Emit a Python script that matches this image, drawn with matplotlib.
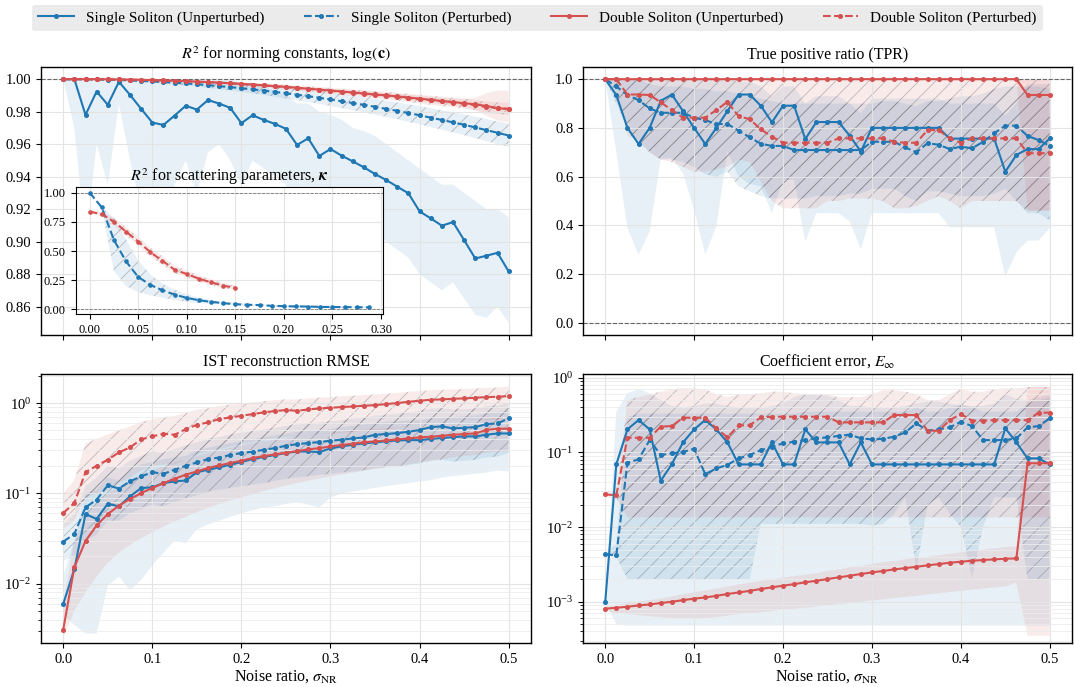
import numpy as np
import matplotlib
matplotlib.use('Agg')
import matplotlib.pyplot as plt
from matplotlib.lines import Line2D

plt.rcParams['font.family'] = ['Liberation Serif', 'DejaVu Serif']
plt.rcParams['mathtext.fontset'] = 'stix'
plt.rcParams['hatch.linewidth'] = 0.6

# noise ratio grid (41 levels, step 0.0125)
noise = np.arange(41) * 0.0125
noise_k_single = noise[:24]
noise_k_double = noise[:13]

labels = ['Single Soliton (Unperturbed)', 'Single Soliton (Perturbed)',
          'Double Soliton (Unperturbed)', 'Double Soliton (Perturbed)']

# ---- R^2 for norming constants ----
r2c_su = [1.0, 1.0, 0.978, 0.9924, 0.9842, 0.9984, 0.9903, 0.9817, 0.9733, 0.9718,
          0.9776, 0.9836, 0.9813, 0.9871, 0.985, 0.9823, 0.9729, 0.9778, 0.9749, 0.9725,
          0.9694, 0.9595, 0.9636, 0.9527, 0.957, 0.9529, 0.9494, 0.9457, 0.9416, 0.9379,
          0.9338, 0.9297, 0.9186, 0.9143, 0.9098, 0.912, 0.9009, 0.8896, 0.8913, 0.8931, 0.8816]
r2c_su_lo = [1.0, 0.97, 0.90, 0.96, 0.935, 0.985, 0.95, 0.92, 0.91, 0.92,
             0.935, 0.95, 0.93, 0.955, 0.96, 0.95, 0.935, 0.95, 0.945, 0.94,
             0.935, 0.92, 0.93, 0.92, 0.925, 0.92, 0.915, 0.91, 0.905, 0.9,
             0.895, 0.89, 0.88, 0.875, 0.87, 0.875, 0.865, 0.855, 0.853, 0.86, 0.85]
r2c_su_hi = [1.0] * 16 + [0.998, 0.997, 0.995, 0.993, 0.99, 0.985, 0.985, 0.98, 0.978, 0.975,
                          0.97, 0.968, 0.965, 0.96, 0.955, 0.95, 0.945, 0.94, 0.935, 0.935,
                          0.93, 0.925, 0.92, 0.92, 0.915]
r2c_sp = [1.0, 1.0, 0.9999, 0.9998, 0.9997, 0.9995, 0.9992, 0.9989, 0.9986, 0.9982,
          0.9978, 0.9974, 0.9969, 0.9963, 0.9957, 0.9951, 0.9944, 0.9937, 0.993, 0.9922,
          0.9913, 0.9904, 0.9895, 0.9885, 0.9875, 0.9864, 0.9853, 0.9842, 0.983, 0.9817,
          0.9805, 0.9791, 0.9778, 0.9763, 0.9749, 0.9734, 0.9719, 0.9703, 0.9686, 0.967, 0.9653]
r2c_sp_lo = [1.0, 1.0, 0.9998, 0.9996, 0.9994, 0.9991, 0.9987, 0.9983, 0.9978, 0.9973,
             0.9967, 0.9961, 0.9954, 0.9946, 0.9938, 0.993, 0.9921, 0.9912, 0.9902, 0.9892,
             0.9881, 0.987, 0.9859, 0.9847, 0.9835, 0.9822, 0.9809, 0.9796, 0.9782, 0.9767,
             0.9753, 0.9737, 0.9722, 0.9705, 0.9689, 0.9672, 0.9655, 0.9637, 0.9619, 0.9601, 0.9583]
r2c_sp_hi = [1.0, 1.0, 1.0, 1.0, 1.0, 0.9999, 0.9997, 0.9995, 0.9994, 0.9991,
             0.9989, 0.9987, 0.9984, 0.998, 0.9976, 0.9972, 0.9967, 0.9962, 0.9958, 0.9952,
             0.9945, 0.9938, 0.9931, 0.9923, 0.9915, 0.9906, 0.9897, 0.9888, 0.9878, 0.9867,
             0.9857, 0.9845, 0.9834, 0.9821, 0.9809, 0.9796, 0.9783, 0.9769, 0.9754, 0.974, 0.9725]
r2c_du = [1.0, 1.0, 1.0, 1.0, 0.9999, 0.9998, 0.9997, 0.9996, 0.9994, 0.9992,
          0.999, 0.9988, 0.9985, 0.9982, 0.9979, 0.9975, 0.9971, 0.9967, 0.9962, 0.9957,
          0.9952, 0.9947, 0.9941, 0.9936, 0.993, 0.9924, 0.9918, 0.9912, 0.9906, 0.99,
          0.9894, 0.9887, 0.988, 0.9873, 0.9866, 0.9859, 0.9852, 0.9845, 0.9835, 0.9822, 0.9815]
r2c_du_lo = [1.0, 1.0, 0.9999, 0.9999, 0.9997, 0.9996, 0.9995, 0.9993, 0.9991, 0.9989,
             0.9986, 0.9984, 0.998, 0.9977, 0.9973, 0.9969, 0.9964, 0.996, 0.9954, 0.9949,
             0.9943, 0.9937, 0.9931, 0.9925, 0.9918, 0.9911, 0.9905, 0.9898, 0.9891, 0.9884,
             0.9877, 0.9869, 0.9861, 0.9853, 0.9845, 0.9837, 0.9828, 0.9812, 0.9775, 0.9745, 0.9735]
r2c_du_hi = [1.0, 1.0, 1.0, 1.0, 1.0, 1.0, 0.9999, 0.9999, 0.9998, 0.9996,
             0.9994, 0.9993, 0.999, 0.9987, 0.9985, 0.9981, 0.9978, 0.9974, 0.997, 0.9965,
             0.9961, 0.9957, 0.9951, 0.9947, 0.9942, 0.9937, 0.9931, 0.9926, 0.9921, 0.9916,
             0.9911, 0.9905, 0.9899, 0.9893, 0.9887, 0.9881, 0.9878, 0.9885, 0.9915, 0.993, 0.993]
r2c_dp = [1.0, 1.0, 1.0, 0.9999, 0.9999, 0.9998, 0.9997, 0.9995, 0.9993, 0.9991,
          0.9989, 0.9987, 0.9984, 0.9981, 0.9978, 0.9974, 0.997, 0.9966, 0.9961, 0.9956,
          0.9951, 0.9946, 0.994, 0.9934, 0.9928, 0.9922, 0.9916, 0.991, 0.9904, 0.9898,
          0.9891, 0.9884, 0.9877, 0.987, 0.9863, 0.9856, 0.9849, 0.984, 0.9828, 0.9821, 0.9818]
r2c_dp_lo = [1.0, 1.0, 0.9999, 0.9998, 0.9997, 0.9996, 0.9994, 0.9992, 0.999, 0.9987,
             0.9984, 0.9981, 0.9977, 0.9973, 0.9969, 0.9964, 0.9959, 0.9954, 0.9948, 0.9942,
             0.9936, 0.993, 0.9923, 0.9916, 0.9909, 0.9902, 0.9895, 0.9888, 0.9881, 0.9874,
             0.9866, 0.9858, 0.985, 0.9842, 0.9834, 0.9826, 0.9818, 0.9808, 0.9794, 0.9785, 0.978]
r2c_dp_hi = [1.0, 1.0, 1.0, 1.0, 1.0, 1.0, 1.0, 0.9998, 0.9996, 0.9995,
             0.9994, 0.9993, 0.9991, 0.9989, 0.9987, 0.9984, 0.9981, 0.9978, 0.9974, 0.997,
             0.9966, 0.9962, 0.9957, 0.9952, 0.9947, 0.9942, 0.9937, 0.9932, 0.9927, 0.9922,
             0.9916, 0.991, 0.9904, 0.9898, 0.9892, 0.9886, 0.988, 0.9872, 0.9862, 0.9857, 0.9856]

# ---- inset: R^2 for scattering parameters ----
r2k_sp = [1.0, 0.873, 0.595, 0.411, 0.278, 0.21, 0.164, 0.127, 0.099, 0.079,
          0.065, 0.054, 0.045, 0.04, 0.037, 0.031, 0.028, 0.026, 0.025, 0.022,
          0.021, 0.02, 0.019, 0.018]
r2k_sp_lo = [1.0, 0.86, 0.33, 0.2, 0.15, 0.12, 0.1, 0.08, 0.065, 0.055,
             0.048, 0.04, 0.035, 0.032, 0.029, 0.023, 0.02, 0.018, 0.017, 0.014,
             0.013, 0.012, 0.011, 0.01]
r2k_sp_hi = [1.0, 0.88, 0.78, 0.6, 0.42, 0.3, 0.22, 0.17, 0.13, 0.1,
             0.08, 0.066, 0.055, 0.049, 0.045, 0.039, 0.036, 0.034, 0.033, 0.03,
             0.029, 0.028, 0.027, 0.026]
r2k_dp = [0.836, 0.816, 0.751, 0.666, 0.581, 0.49, 0.416, 0.34, 0.303, 0.263, 0.232, 0.204, 0.184]
r2k_dp_lo = [0.827, 0.797, 0.72, 0.63, 0.545, 0.455, 0.38, 0.31, 0.275, 0.237, 0.207, 0.182, 0.165]
r2k_dp_hi = [0.845, 0.835, 0.785, 0.705, 0.62, 0.53, 0.455, 0.375, 0.335, 0.292, 0.26, 0.228, 0.205]

# ---- TPR ----
tpr_su = [1.0, 0.935, 0.80, 0.734, 0.80, 0.911, 0.937, 0.869, 0.80, 0.734,
          0.80, 0.869, 0.937, 0.937, 0.891, 0.823, 0.891, 0.891, 0.754, 0.824,
          0.824, 0.824, 0.768, 0.703, 0.80, 0.80, 0.80, 0.80, 0.80, 0.80,
          0.80, 0.756, 0.756, 0.756, 0.756, 0.756, 0.62, 0.689, 0.713, 0.713, 0.757]
tpr_su_lo = [1.0, 0.7, 0.39, 0.28, 0.375, 0.675, 0.675, 0.614, 0.464, 0.28,
             0.395, 0.703, 0.6, 0.57, 0.56, 0.45, 0.587, 0.587, 0.334, 0.45,
             0.45, 0.45, 0.416, 0.303, 0.45, 0.45, 0.45, 0.45, 0.45, 0.45,
             0.45, 0.392, 0.392, 0.392, 0.392, 0.392, 0.19, 0.29, 0.337, 0.337, 0.39]
tpr_su_hi = [1.0] * 12 + [0.99, 0.99, 0.97, 0.93, 0.97, 0.97, 0.9, 0.93, 0.93, 0.93,
                          0.9, 0.86, 0.92, 0.92, 0.92, 0.92, 0.92, 0.92, 0.92, 0.9,
                          0.9, 0.9, 0.9, 0.9, 0.85, 0.9, 0.98, 0.98, 0.98]
tpr_sp = [1.0, 0.97, 0.935, 0.914, 0.88, 0.862, 0.862, 0.862, 0.842, 0.832,
          0.816, 0.816, 0.789, 0.761, 0.735, 0.726, 0.726, 0.709, 0.709, 0.709,
          0.709, 0.709, 0.709, 0.709, 0.743, 0.743, 0.743, 0.72, 0.70, 0.737,
          0.731, 0.713, 0.723, 0.716, 0.743, 0.778, 0.809, 0.809, 0.767, 0.75, 0.726]
tpr_sp_lo = [1.0, 0.9, 0.8, 0.74, 0.7, 0.67, 0.67, 0.66, 0.64, 0.61,
             0.6, 0.62, 0.56, 0.54, 0.52, 0.51, 0.51, 0.51, 0.51, 0.52,
             0.52, 0.52, 0.53, 0.53, 0.55, 0.55, 0.55, 0.52, 0.5, 0.54,
             0.54, 0.53, 0.52, 0.52, 0.52, 0.53, 0.55, 0.5, 0.45, 0.45, 0.42]
tpr_sp_hi = [1.0, 1.0, 1.0, 1.0, 0.98, 0.97, 0.97, 0.97, 0.96, 0.96,
             0.95, 0.95, 0.94, 0.93, 0.92, 0.91, 0.9, 0.9, 0.9, 0.9,
             0.9, 0.9, 0.9, 0.9, 0.9, 0.91, 0.91, 0.9, 0.89, 0.91,
             0.91, 0.92, 0.93, 0.93, 0.94, 0.96, 0.97, 0.97, 0.97, 0.97, 0.96]
tpr_du = [1.0] * 38 + [0.935, 0.935, 0.935]
tpr_du_lo = [1.0] * 38 + [0.46, 0.46, 0.46]
tpr_du_hi = [1.0] * 41
tpr_dp = [1.0, 1.0, 0.937, 0.937, 0.935, 0.905, 0.873, 0.842, 0.842, 0.842,
          0.873, 0.907, 0.848, 0.836, 0.794, 0.764, 0.739, 0.739, 0.739, 0.739,
          0.739, 0.757, 0.757, 0.757, 0.757, 0.757, 0.743, 0.739, 0.739, 0.791,
          0.791, 0.757, 0.739, 0.757, 0.757, 0.757, 0.757, 0.757, 0.696, 0.696, 0.696]
tpr_dp_lo = [1.0, 0.95, 0.77, 0.75, 0.7, 0.67, 0.66, 0.64, 0.62, 0.62,
             0.63, 0.64, 0.67, 0.66, 0.58, 0.5, 0.47, 0.47, 0.47, 0.47,
             0.5, 0.5, 0.51, 0.51, 0.51, 0.5, 0.47, 0.47, 0.48, 0.5,
             0.52, 0.5, 0.47, 0.5, 0.5, 0.5, 0.5, 0.5, 0.46, 0.46, 0.46]
tpr_dp_hi = [1.0] * 41

# ---- IST reconstruction RMSE ----
rmse_su = [0.00596, 0.0145, 0.059, 0.052, 0.0769, 0.0718, 0.0927, 0.1146, 0.1166, 0.13,
           0.1356, 0.139, 0.171, 0.183, 0.194, 0.208, 0.222, 0.24, 0.253, 0.266,
           0.28, 0.291, 0.291, 0.287, 0.315, 0.331, 0.346, 0.358, 0.367, 0.377,
           0.386, 0.389, 0.389, 0.4, 0.41, 0.42, 0.428, 0.428, 0.446, 0.461, 0.461]
rmse_su_lo = [0.0045, 0.0035, 0.0028, 0.0028, 0.0095, 0.012, 0.0085, 0.011, 0.016, 0.022,
              0.03, 0.028, 0.04, 0.045, 0.05, 0.055, 0.06, 0.065, 0.07, 0.072,
              0.076, 0.08, 0.075, 0.07, 0.09, 0.1, 0.105, 0.11, 0.115, 0.12,
              0.125, 0.13, 0.135, 0.14, 0.15, 0.155, 0.16, 0.165, 0.17, 0.18, 0.175]
rmse_su_hi = [0.012, 0.03, 0.1, 0.11, 0.15, 0.14, 0.18, 0.21, 0.22, 0.24,
              0.25, 0.26, 0.3, 0.32, 0.34, 0.36, 0.38, 0.4, 0.42, 0.44,
              0.46, 0.48, 0.49, 0.49, 0.52, 0.54, 0.56, 0.58, 0.6, 0.62,
              0.63, 0.64, 0.65, 0.67, 0.69, 0.7, 0.72, 0.73, 0.76, 0.8, 0.82]
rmse_sp = [0.0292, 0.0355, 0.07, 0.085, 0.123, 0.113, 0.136, 0.154, 0.172, 0.164,
           0.183, 0.202, 0.22, 0.24, 0.249, 0.266, 0.28, 0.289, 0.304, 0.317,
           0.337, 0.351, 0.361, 0.37, 0.383, 0.393, 0.406, 0.417, 0.446, 0.454,
           0.465, 0.482, 0.503, 0.542, 0.552, 0.524, 0.533, 0.542, 0.585, 0.596, 0.676]
rmse_sp_lo = [0.018, 0.02, 0.03, 0.035, 0.05, 0.05, 0.06, 0.068, 0.075, 0.072,
              0.08, 0.088, 0.095, 0.105, 0.11, 0.115, 0.12, 0.125, 0.13, 0.137,
              0.145, 0.15, 0.155, 0.16, 0.165, 0.17, 0.175, 0.18, 0.19, 0.195,
              0.2, 0.205, 0.215, 0.23, 0.235, 0.225, 0.23, 0.235, 0.25, 0.255, 0.28]
rmse_sp_hi = [0.045, 0.06, 0.12, 0.15, 0.2, 0.19, 0.23, 0.26, 0.29, 0.28,
              0.31, 0.34, 0.37, 0.4, 0.42, 0.45, 0.47, 0.49, 0.51, 0.53,
              0.56, 0.58, 0.6, 0.61, 0.63, 0.65, 0.67, 0.69, 0.73, 0.74,
              0.76, 0.79, 0.82, 0.87, 0.88, 0.85, 0.86, 0.87, 0.93, 0.94, 1.0]
rmse_du = [0.0031, 0.0152, 0.0297, 0.0442, 0.059, 0.0732, 0.0865, 0.101, 0.1146, 0.13,
           0.145, 0.161, 0.175, 0.191, 0.204, 0.217, 0.23, 0.246, 0.259, 0.27,
           0.282, 0.294, 0.307, 0.317, 0.331, 0.343, 0.355, 0.367, 0.377, 0.386,
           0.396, 0.406, 0.417, 0.424, 0.435, 0.446, 0.454, 0.461, 0.504, 0.52, 0.52]
rmse_du_lo = [0.0025, 0.005, 0.008, 0.012, 0.017, 0.022, 0.027, 0.032, 0.037, 0.043,
              0.049, 0.055, 0.062, 0.069, 0.076, 0.083, 0.09, 0.098, 0.106, 0.114,
              0.122, 0.13, 0.138, 0.146, 0.154, 0.162, 0.17, 0.178, 0.186, 0.194,
              0.2, 0.21, 0.22, 0.23, 0.24, 0.25, 0.26, 0.265, 0.28, 0.29, 0.29]
rmse_du_hi = [0.006, 0.03, 0.055, 0.08, 0.1, 0.12, 0.14, 0.16, 0.18, 0.2,
              0.22, 0.24, 0.26, 0.28, 0.3, 0.32, 0.34, 0.36, 0.38, 0.39,
              0.41, 0.42, 0.44, 0.45, 0.47, 0.48, 0.5, 0.51, 0.52, 0.53,
              0.54, 0.55, 0.57, 0.58, 0.59, 0.6, 0.61, 0.62, 0.67, 0.69, 0.69]
rmse_dp = [0.0606, 0.0782, 0.172, 0.202, 0.236, 0.284, 0.323, 0.396, 0.428, 0.458,
           0.446, 0.515, 0.575, 0.611, 0.665, 0.694, 0.724, 0.755, 0.788, 0.816,
           0.837, 0.822, 0.85, 0.873, 0.888, 0.903, 0.918, 0.934, 0.95, 0.975,
           1.0, 1.034, 1.061, 1.089, 1.098, 1.117, 1.126, 1.146, 1.165, 1.175, 1.195]
rmse_dp_lo = [0.04, 0.05, 0.09, 0.1, 0.11, 0.13, 0.15, 0.18, 0.2, 0.21,
              0.21, 0.24, 0.27, 0.29, 0.31, 0.33, 0.35, 0.37, 0.39, 0.41,
              0.42, 0.42, 0.44, 0.45, 0.46, 0.47, 0.48, 0.49, 0.5, 0.51,
              0.53, 0.55, 0.57, 0.59, 0.6, 0.61, 0.62, 0.63, 0.64, 0.65, 0.66]
rmse_dp_hi = [0.1, 0.14, 0.36, 0.4, 0.45, 0.5, 0.55, 0.62, 0.66, 0.7,
              0.72, 0.78, 0.85, 0.88, 0.93, 0.96, 0.99, 1.02, 1.05, 1.08,
              1.1, 1.1, 1.12, 1.15, 1.17, 1.19, 1.21, 1.23, 1.25, 1.27,
              1.3, 1.33, 1.36, 1.39, 1.4, 1.42, 1.43, 1.45, 1.47, 1.49, 1.52]

# ---- coefficient error E_inf ----
einf_su = [0.00098, 0.069, 0.203, 0.271, 0.203, 0.0417, 0.0697, 0.136, 0.203, 0.271,
           0.203, 0.136, 0.069, 0.069, 0.069, 0.136, 0.069, 0.069, 0.203, 0.136,
           0.136, 0.136, 0.069, 0.136, 0.069, 0.069, 0.069, 0.069, 0.069, 0.069,
           0.069, 0.069, 0.069, 0.069, 0.069, 0.069, 0.21, 0.136, 0.083, 0.083, 0.069]
einf_su_lo = [0.00095, 0.0005] + [0.00048] * 39
einf_su_hi = [0.001, 0.35, 0.62, 0.7, 0.62, 0.5, 0.42, 0.4, 0.42, 0.45,
              0.45, 0.42, 0.4, 0.4, 0.4, 0.42, 0.45, 0.55, 0.6, 0.58,
              0.58, 0.5, 0.42, 0.42, 0.4, 0.4, 0.4, 0.42, 0.45, 0.48,
              0.48, 0.45, 0.42, 0.42, 0.42, 0.45, 0.6, 0.52, 0.5, 0.55, 0.6]
einf_sp = [0.0043, 0.0042, 0.0727, 0.0806, 0.146, 0.092, 0.097, 0.101, 0.112, 0.051,
           0.061, 0.068, 0.083, 0.092, 0.107, 0.119, 0.132, 0.139, 0.146, 0.154,
           0.159, 0.166, 0.173, 0.154, 0.149, 0.152, 0.162, 0.185, 0.245, 0.195,
           0.203, 0.216, 0.257, 0.225, 0.146, 0.146, 0.146, 0.154, 0.216, 0.225, 0.285]
einf_sp_lo = [0.0043, 0.004, 0.002, 0.002, 0.002, 0.002, 0.002, 0.002, 0.002, 0.002,
              0.002, 0.002, 0.002, 0.002, 0.011, 0.011, 0.011, 0.011, 0.011, 0.011,
              0.011, 0.011, 0.011, 0.011, 0.0105, 0.011, 0.015, 0.025, 0.0027, 0.02,
              0.025, 0.015, 0.01, 0.0021, 0.01, 0.025, 0.025, 0.025, 0.002, 0.002, 0.002]
einf_sp_hi = [0.0045, 0.006, 0.3, 0.33, 0.33, 0.33, 0.33, 0.33, 0.33, 0.33,
              0.33, 0.33, 0.33, 0.33, 0.33, 0.33, 0.33, 0.33, 0.35, 0.35,
              0.35, 0.35, 0.35, 0.35, 0.35, 0.35, 0.35, 0.35, 0.4, 0.35,
              0.35, 0.4, 0.45, 0.4, 0.35, 0.35, 0.35, 0.35, 0.45, 0.5, 0.55]
einf_du = [0.000806, 0.000831, 0.000857, 0.000893, 0.00092, 0.00096, 0.001, 0.00105, 0.0011, 0.00114,
           0.0012, 0.00127, 0.00133, 0.0014, 0.00148, 0.00156, 0.00164, 0.00172, 0.00182, 0.00191,
           0.00201, 0.00212, 0.00223, 0.00235, 0.00247, 0.00258, 0.00271, 0.00282, 0.00294, 0.00307,
           0.00319, 0.00333, 0.00343, 0.00354, 0.00362, 0.00369, 0.00377, 0.0038, 0.0713, 0.0713, 0.0713]
einf_du_lo = [0.00075, 0.0007, 0.00068, 0.00066, 0.00064, 0.00062, 0.0006, 0.0006, 0.0006, 0.0006,
              0.00062, 0.00065, 0.00068, 0.0007, 0.00072, 0.00075, 0.00078, 0.0008, 0.00083, 0.00086,
              0.0009, 0.00093, 0.00096, 0.001, 0.00104, 0.00108, 0.00112, 0.00116, 0.0012, 0.00125,
              0.0013, 0.00135, 0.0014, 0.00145, 0.0015, 0.00155, 0.0016, 0.0018, 0.00035, 0.00035, 0.00035]
einf_du_hi = [0.00088, 0.0009, 0.00095, 0.001, 0.00105, 0.0011, 0.00118, 0.00126, 0.00134, 0.00142,
              0.0015, 0.0016, 0.0017, 0.0018, 0.0019, 0.002, 0.0021, 0.0022, 0.0023, 0.0024,
              0.0026, 0.0027, 0.0029, 0.003, 0.0032, 0.0034, 0.0035, 0.0037, 0.0039, 0.004,
              0.0042, 0.0044, 0.0046, 0.0048, 0.005, 0.0052, 0.0054, 0.0055, 0.75, 0.75, 0.75]
einf_dp = [0.0274, 0.0266, 0.157, 0.157, 0.157, 0.221, 0.225, 0.291, 0.291, 0.291,
           0.21, 0.159, 0.23, 0.23, 0.294, 0.3, 0.3, 0.3, 0.3, 0.3,
           0.3, 0.252, 0.252, 0.252, 0.252, 0.252, 0.316, 0.316, 0.316, 0.195,
           0.195, 0.27, 0.326, 0.266, 0.266, 0.27, 0.27, 0.27, 0.27, 0.34, 0.34]
einf_dp_lo = [0.025, 0.024] + [0.0135] * 39
einf_dp_hi = [0.03, 0.03, 0.5, 0.55, 0.6, 0.65, 0.7, 0.72, 0.72, 0.7,
              0.6, 0.55, 0.6, 0.6, 0.62, 0.65, 0.65, 0.62, 0.6, 0.6,
              0.6, 0.55, 0.55, 0.55, 0.6, 0.68, 0.68, 0.65, 0.6, 0.5,
              0.5, 0.6, 0.7, 0.65, 0.65, 0.7, 0.72, 0.72, 0.75, 0.75, 0.75]

BLUE = '#1f77b4'
RED = '#d65050'
styles = [(BLUE, False), (BLUE, True), (RED, False), (RED, True)]


def draw(ax, x, y, lo, hi, color, perturbed, ms=2.6):
    rgb = matplotlib.colors.to_rgb(color)
    ax.fill_between(x, lo, hi, facecolor=rgb + (0.11,), edgecolor='none', lw=0, zorder=1)
    if perturbed:
        ax.fill_between(x, lo, hi, facecolor='none', edgecolor=(0.3, 0.3, 0.35, 0.35),
                        hatch='//', lw=0, zorder=1)
    ax.plot(x, y, ls='--' if perturbed else '-', color=color, lw=1.5,
            marker='o', ms=ms, zorder=3)


def style_axes(ax, log=False):
    ax.set_xlim(-0.025, 0.525)
    ax.set_xticks([0.0, 0.1, 0.2, 0.3, 0.4, 0.5])
    ax.grid(True, which='major', color='#e3e3e3', lw=0.8, zorder=0)
    if log:
        ax.set_yscale('log')
        ax.grid(True, which='minor', axis='y', color='#ececec', lw=0.6, zorder=0)
    ax.tick_params(labelsize=10.5)
    for sp in ax.spines.values():
        sp.set_linewidth(1.0)


fig = plt.figure(figsize=(10.75, 6.87), dpi=100)
ax_c = fig.add_axes([0.0381, 0.5124, 0.4558, 0.3901])
ax_t = fig.add_axes([0.5423, 0.5124, 0.4549, 0.3901])
ax_r = fig.add_axes([0.0381, 0.064, 0.4558, 0.3916])
ax_e = fig.add_axes([0.5423, 0.064, 0.4549, 0.3916])

panels = [
    (ax_c, [(r2c_su, r2c_su_lo, r2c_su_hi), (r2c_sp, r2c_sp_lo, r2c_sp_hi),
            (r2c_du, r2c_du_lo, r2c_du_hi), (r2c_dp, r2c_dp_lo, r2c_dp_hi)]),
    (ax_t, [(tpr_su, tpr_su_lo, tpr_su_hi), (tpr_sp, tpr_sp_lo, tpr_sp_hi),
            (tpr_du, tpr_du_lo, tpr_du_hi), (tpr_dp, tpr_dp_lo, tpr_dp_hi)]),
    (ax_r, [(rmse_su, rmse_su_lo, rmse_su_hi), (rmse_sp, rmse_sp_lo, rmse_sp_hi),
            (rmse_du, rmse_du_lo, rmse_du_hi), (rmse_dp, rmse_dp_lo, rmse_dp_hi)]),
    (ax_e, [(einf_su, einf_su_lo, einf_su_hi), (einf_sp, einf_sp_lo, einf_sp_hi),
            (einf_du, einf_du_lo, einf_du_hi), (einf_dp, einf_dp_lo, einf_dp_hi)]),
]
for ax, series in panels:
    for (y, lo, hi), (col, pert) in zip(series, styles):
        draw(ax, noise, y, lo, hi, col, pert)

style_axes(ax_c)
style_axes(ax_t)
style_axes(ax_r, log=True)
style_axes(ax_e, log=True)

ax_c.axhline(1.0, color='#666666', ls='--', lw=0.8, zorder=2)
ax_c.set_ylim(0.8425, 1.0075)
ax_c.set_yticks([0.86, 0.88, 0.90, 0.92, 0.94, 0.96, 0.98, 1.00])
ax_c.yaxis.set_major_formatter(matplotlib.ticker.FormatStrFormatter('%.2f'))
ax_c.set_title(r'$R^2$ for norming constants, $\log(\mathbf{c})$', fontsize=11.5)
ax_c.tick_params(labelbottom=False)

ax_t.axhline(1.0, color='#666666', ls='--', lw=0.8, zorder=2)
ax_t.axhline(0.0, color='#666666', ls='--', lw=0.8, zorder=2)
ax_t.set_ylim(-0.05, 1.05)
ax_t.set_yticks([0.0, 0.2, 0.4, 0.6, 0.8, 1.0])
ax_t.set_title('True positive ratio (TPR)', fontsize=11.5)
ax_t.tick_params(labelbottom=False)

ax_r.set_ylim(0.0022, 2.1)
ax_r.set_title('IST reconstruction RMSE', fontsize=11.5)
ax_r.set_xlabel(r'Noise ratio, $\sigma_{\mathrm{NR}}$', fontsize=11.5, labelpad=2)

ax_e.set_ylim(0.00028, 1.12)
ax_e.set_title(r'Coefficient error, $E_\infty$', fontsize=11.5)
ax_e.set_xlabel(r'Noise ratio, $\sigma_{\mathrm{NR}}$', fontsize=11.5, labelpad=2)

# inset
axi = ax_c.inset_axes([0.0708, 0.078, 0.627, 0.475])
axi.set_facecolor('white')
axi.set_zorder(5)
draw(axi, noise_k_single, r2k_sp, r2k_sp_lo, r2k_sp_hi, BLUE, True, ms=2.3)
draw(axi, noise_k_double, r2k_dp, r2k_dp_lo, r2k_dp_hi, RED, True, ms=2.3)
axi.axhline(1.0, color='#777777', ls='--', lw=0.6, zorder=2)
axi.axhline(0.0, color='#777777', ls='--', lw=0.6, zorder=2)
axi.set_xticks([0.0, 0.05, 0.10, 0.15, 0.20, 0.25, 0.30])
axi.set_yticks([0.0, 0.25, 0.5, 0.75, 1.0])
axi.xaxis.set_major_formatter(matplotlib.ticker.FormatStrFormatter('%.2f'))
axi.yaxis.set_major_formatter(matplotlib.ticker.FormatStrFormatter('%.2f'))
axi.grid(True, color='#e3e3e3', lw=0.8, zorder=0)
axi.tick_params(labelsize=9)
axi.set_title(r'$R^2$ for scattering parameters, $\boldsymbol{\kappa}$', fontsize=11.5, pad=4)

handles = [Line2D([], [], color=c, ls='--' if p else '-', lw=1.5, marker='o', ms=2.6)
           for c, p in styles]
fig.legend(handles, labels, loc='upper center', bbox_to_anchor=(0.5, 1.004), ncol=4,
           fontsize=11, frameon=True, facecolor='#ebebeb', edgecolor='none',
           framealpha=1, fancybox=True, handlelength=2.3, columnspacing=2.6)

fig.savefig('out.png', dpi=100)
